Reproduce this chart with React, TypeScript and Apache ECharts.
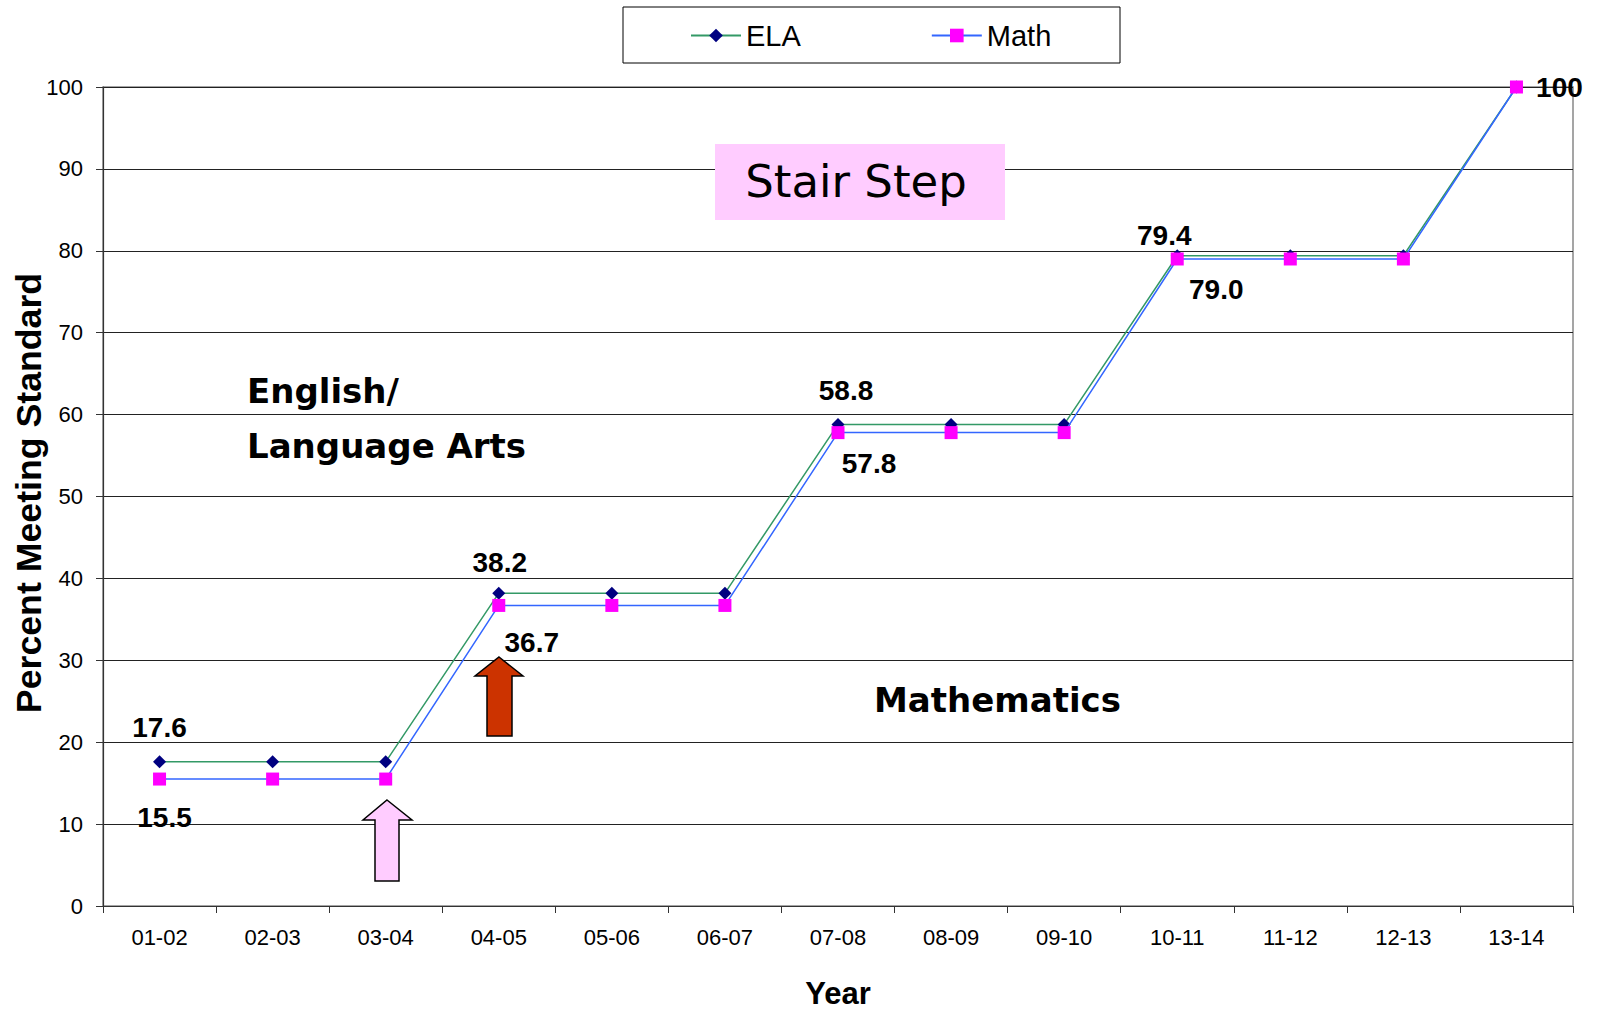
import React, { useEffect, useRef } from "react";
import * as echarts from "echarts";

const years = ["01-02", "02-03", "03-04", "04-05", "05-06", "06-07", "07-08", "08-09", "09-10", "10-11", "11-12", "12-13", "13-14"];
const elaValues = [17.6, 17.6, 17.6, 38.2, 38.2, 38.2, 58.8, 58.8, 58.8, 79.4, 79.4, 79.4, 100];
const mathValues = [15.5, 15.5, 15.5, 36.7, 36.7, 36.7, 57.8, 57.8, 57.8, 79.0, 79.0, 79.0, 100];
const yTicks = [0, 10, 20, 30, 40, 50, 60, 70, 80, 90, 100];

// label placement (style only): index -> [dx, dy]
const elaLabelOffsets: Record<number, number[]> = { 0: [0, -34], 3: [1, -31], 6: [8, -34], 9: [-13, -20] };
const mathLabelOffsets: Record<number, number[]> = { 0: [5, 38], 3: [33, 37], 6: [31, 31], 9: [39, 31], 12: [43, 0] };

const ARIAL = "'Liberation Sans', Arial, Helvetica, sans-serif";
const COMIC = "'Comic Sans MS', 'DejaVu Sans', sans-serif";

function fmt(v: number) {
  return v === 100 ? "100" : v.toFixed(1);
}

function buildData(values: number[], offsets: Record<number, number[]>) {
  return values.map((v, i) => {
    const off = offsets[i];
    if (!off) return v;
    return {
      value: v,
      label: {
        show: true,
        position: "inside",
        offset: off,
        formatter: fmt(v),
        fontFamily: ARIAL,
        fontWeight: "bold",
        fontSize: 28,
        color: "#000",
        align: "center",
        verticalAlign: "middle",
      },
    };
  });
}

export default function App() {
  const ref = useRef<HTMLDivElement>(null);
  useEffect(() => {
    document.body.style.margin = "0";
    const chart = echarts.init(ref.current!, null, { renderer: "svg" });
    chart.setOption({
      animation: false,
      backgroundColor: "#fff",
      grid: {
        left: 103,
        right: 25,
        top: 87,
        bottom: 103,
        show: true,
        borderColor: "#888",
        borderWidth: 1.5,
        backgroundColor: "transparent",
      },
      legend: {
        left: 685,
        top: 16,
        itemWidth: 50,
        itemHeight: 17,
        itemGap: 130,
        textStyle: { fontSize: 29, fontFamily: ARIAL, color: "#000" },
        data: ["ELA", "Math"],
      },
      xAxis: {
        type: "category",
        data: years,
        boundaryGap: true,
        name: "Year",
        nameLocation: "middle",
        nameGap: 72,
        nameTextStyle: { fontFamily: ARIAL, fontWeight: "bold", fontSize: 31, color: "#000" },
        axisLine: { lineStyle: { color: "#333", width: 1.2 } },
        axisTick: { show: true, length: 7, lineStyle: { color: "#333" } },
        axisLabel: { fontFamily: ARIAL, fontSize: 22, color: "#000", margin: 20 },
        splitLine: { show: false },
      },
      yAxis: {
        type: "value",
        min: yTicks[0],
        max: yTicks[yTicks.length - 1],
        interval: 10,
        axisLine: { show: true, lineStyle: { color: "#333", width: 1.2 } },
        axisTick: { show: true, length: 7, lineStyle: { color: "#333" } },
        axisLabel: { fontFamily: ARIAL, fontSize: 22, color: "#000", margin: 20 },
        splitLine: { show: true, lineStyle: { color: "#222", width: 1 } },
      },
      series: [
        {
          name: "ELA",
          type: "line",
          data: buildData(elaValues, elaLabelOffsets),
          symbol: "diamond",
          symbolSize: 13,
          lineStyle: { color: "#339966", width: 1.5 },
          itemStyle: { color: "#000080" },
          z: 3,
        },
        {
          name: "Math",
          type: "line",
          data: buildData(mathValues, mathLabelOffsets),
          symbol: "rect",
          symbolSize: 13,
          lineStyle: { color: "#3366FF", width: 1.5 },
          itemStyle: { color: "#FF00FF" },
          z: 4,
        },
      ],
      graphic: [
        {
          type: "rect",
          shape: { x: 623, y: 7, width: 497, height: 56 },
          style: { fill: "#fff", stroke: "#000", lineWidth: 1 },
          z: -1,
        },
        {
          type: "text",
          x: 29,
          y: 493,
          rotation: Math.PI / 2,
          style: { text: "Percent Meeting Standard", font: `bold 35.7px ${ARIAL}`, fill: "#000", textAlign: "center", textVerticalAlign: "middle" },
        },
        {
          type: "rect",
          shape: { x: 715, y: 144, width: 290, height: 76 },
          style: { fill: "#FFCCFF" },
          z: 1,
        },
        {
          type: "text",
          x: 856,
          y: 181,
          z: 2,
          style: { text: "Stair Step", font: `normal 45px ${COMIC}`, fill: "#000", textAlign: "center", textVerticalAlign: "middle" },
        },
        {
          type: "text",
          x: 247,
          y: 391,
          z: 2,
          style: { text: "English/", font: `bold 34px ${COMIC}`, fill: "#000", textAlign: "left", textVerticalAlign: "middle" },
        },
        {
          type: "text",
          x: 247,
          y: 446,
          z: 2,
          style: { text: "Language Arts", font: `bold 34px ${COMIC}`, fill: "#000", textAlign: "left", textVerticalAlign: "middle" },
        },
        {
          type: "text",
          x: 874,
          y: 700,
          z: 2,
          style: { text: "Mathematics", font: `bold 34px ${COMIC}`, fill: "#000", textAlign: "left", textVerticalAlign: "middle" },
        },
        {
          type: "polygon",
          z: 5,
          shape: { points: [[387, 800], [412, 820], [399, 820], [399, 881], [375, 881], [375, 820], [363, 820]] },
          style: { fill: "#FFCCFF", stroke: "#000", lineWidth: 1.5 },
        },
        {
          type: "polygon",
          z: 5,
          shape: { points: [[499, 657], [523, 676], [512, 676], [512, 736], [487, 736], [487, 676], [475, 676]] },
          style: { fill: "#CC3300", stroke: "#000", lineWidth: 1.5 },
        },
      ],
    });
    return () => chart.dispose();
  }, []);
  return <div ref={ref} style={{ width: 1598, height: 1014 }} />;
}
